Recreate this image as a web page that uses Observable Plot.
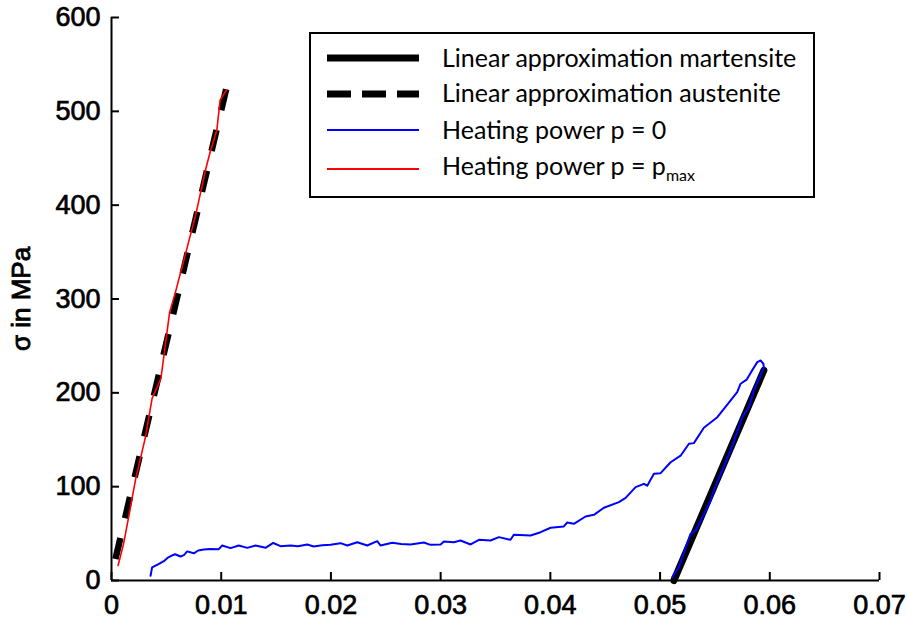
<!DOCTYPE html>
<html><head><meta charset="utf-8">
<script src="https://cdn.jsdelivr.net/npm/d3@7"></script>
<script src="https://cdn.jsdelivr.net/npm/@observablehq/plot@0.6"></script>
<style>
body{margin:0;background:#fff;}
#wrap{position:relative;width:907px;height:624px;}
#wrap svg [aria-label="x-axis tick label"] text,#wrap svg [aria-label="y-axis tick label"] text{stroke:#000;stroke-width:0.7px;}
#wrap svg .ylab text{stroke:#000;stroke-width:0.9px;}
#legend{position:absolute;left:309px;top:32px;width:502px;height:162px;border:2px solid #000;background:#fff;font-family:Lato,"Open Sans",sans-serif;font-size:25px;color:#000;}
#legend svg{position:absolute;left:16px;width:92px;height:14px;}
#legend span{position:absolute;left:131px;line-height:30px;white-space:nowrap;}
sub{font-size:16px;vertical-align:-6px;line-height:0;}
</style></head><body><div id="wrap"></div>
<script>
const xTicks=[0,0.01,0.02,0.03,0.04,0.05,0.06,0.07];
const xTickLabels=["0","0.01","0.02","0.03","0.04","0.05","0.06","0.07"];
const yTicks=[0,100,200,300,400,500,600];
const yTickLabels=["0","100","200","300","400","500","600"];

const martensiteStrain=[0.05126,0.05946];
const martensiteStress=[0,224];
const austeniteStrain=[0.00036,0.01046];
const austeniteStress=[23,524];

const redStrain=[0.0006,0.0011,0.0016,0.0022,0.0031,0.0037,0.0045,0.0053,0.0058,0.0069,0.0077,0.0086,0.0090,0.0096,0.0099,0.0105];
const redStress=[16,39,70,108,153,194,215,286,306,355,391,439,457,480,512,523];

const blueStrain=[0.00356,0.0037,0.0042,0.00477,0.0051,0.00553,0.0058,0.00629,0.0066,0.0069,0.0075,0.0079,0.00841,0.0090,0.00978,0.01009,0.01085,0.0116,0.01237,0.01313,0.01404,0.01474,0.0154,0.01632,0.0170,0.01784,0.01844,0.0192,0.01996,0.02087,0.02149,0.0224,0.02331,0.02422,0.02452,0.02559,0.0264,0.02726,0.02847,0.02908,0.03,0.0303,0.0312,0.03181,0.03273,0.03349,0.03455,0.03531,0.03637,0.03667,0.0382,0.03911,0.04002,0.04123,0.04154,0.04214,0.04321,0.04397,0.04488,0.04625,0.04686,0.04777,0.04853,0.04883,0.04944,0.05005,0.05096,0.05187,0.05263,0.05308,0.05399,0.05522,0.05582,0.05703,0.05734,0.05789,0.0584,0.05886,0.05916,0.05941,0.05946,0.0590,0.05855,0.0581,0.05749,0.05643,0.0549,0.0546,0.05324,0.05278,0.05171,0.05111];
const blueStress=[5,14,17,20.6,24,26.7,28,25.6,27,31,29,32,33,33.5,33.4,37.3,34.5,37.3,34.8,37.3,34.8,40,36.6,37.3,36.5,38.4,36.2,37.5,38,39.8,37.3,40.8,37.3,41.9,37.3,40.2,39,38.4,40.5,38,38.4,41.6,40.8,42.6,38.4,43.4,42.6,46.2,43.4,48.7,48,51.5,56.2,57.6,61.8,60.4,68.2,70,77.5,83.5,88,99.5,103,101,113.7,114.4,126,133,145.7,146.4,162.8,174,183,200.7,209.7,214,224,232.7,234.5,231,227,215,202.6,185,174,138.6,96,85,53,49.8,14,3.5];

const legendLabels=["Linear approximation martensite","Linear approximation austenite","Heating power p = 0","Heating power p = p"];

const fontTick="Liberation Sans, Arial, sans-serif";
const chart=Plot.plot({
  width:907,height:624,marginLeft:111,marginRight:28,marginTop:17,marginBottom:44,
  x:{domain:[0,0.07]},
  y:{domain:[0,600]},
  style:{fontFamily:fontTick,fontSize:"27px",color:"#000",background:"#fff"},
  marks:[
    Plot.axisX(xTicks,{tickSize:0,tickPadding:14,tickFormat:d=>xTickLabels[xTicks.indexOf(d)],label:null}),
    Plot.axisX(xTicks,{tickSize:8,dy:-8,tickFormat:()=>"",label:null,strokeWidth:2}),
    Plot.axisY(yTicks,{tickSize:0,tickPadding:11,tickFormat:d=>yTickLabels[yTicks.indexOf(d)],label:null}),
    Plot.axisY(yTicks,{tickSize:8,dx:8,tickFormat:()=>"",label:null,strokeWidth:2}),
    Plot.ruleY([0],{stroke:"#000",strokeWidth:2}),
    Plot.ruleX([0],{stroke:"#000",strokeWidth:2}),
    Plot.text(["σ in MPa"],{frameAnchor:"left",rotate:-90,dx:-90,textAnchor:"middle",lineAnchor:"middle",fontSize:26,fill:"#000",className:"ylab"}),
    Plot.line(martensiteStrain,{x:martensiteStrain,y:martensiteStress,stroke:"#000",strokeWidth:7}),
    Plot.line(austeniteStrain,{x:austeniteStrain,y:austeniteStress,stroke:"#000",strokeWidth:6.5,strokeDasharray:"21.6 20.3",strokeLinecap:"butt"}),
    Plot.line(blueStrain,{x:blueStrain,y:blueStress,stroke:"#0000ff",strokeWidth:2}),
    Plot.line(redStrain,{x:redStrain,y:redStress,stroke:"#ff0000",strokeWidth:1.6})
  ]
});
const wrap=document.getElementById("wrap");
wrap.appendChild(chart);

const legendStyles=[
  {stroke:"#000",width:7,dash:null},
  {stroke:"#000",width:7,dash:"24 11"},
  {stroke:"#0000ff",width:2,dash:null},
  {stroke:"#ff0000",width:2,dash:null}
];
const lineY=[24,60,96,135];
const textTop=[8,43,80,116];
const leg=document.createElement("div");
leg.id="legend";
legendLabels.forEach((lab,i)=>{
  const s=legendStyles[i];
  const holder=document.createElement("div");
  holder.innerHTML=`<svg style="top:${lineY[i]-7}px" viewBox="0 0 92 14"><line x1="0" y1="7" x2="92" y2="7" stroke="${s.stroke}" stroke-width="${s.width}" ${s.dash?`stroke-dasharray="${s.dash}"`:""}/></svg><span style="top:${textTop[i]}px">${lab}${i===3?"<sub>max</sub>":""}</span>`;
  while(holder.firstChild) leg.appendChild(holder.firstChild);
});
wrap.appendChild(leg);
</script>
</body></html>
